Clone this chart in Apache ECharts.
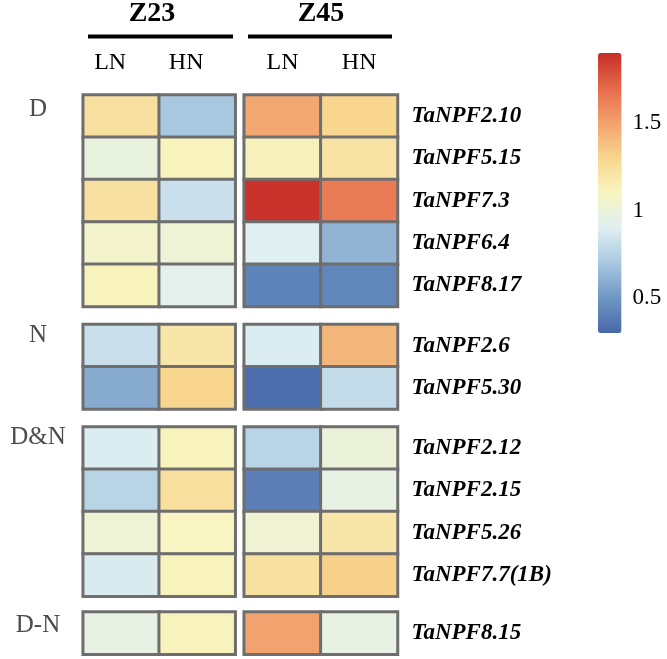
<!DOCTYPE html>
<html>
<head>
<meta charset="utf-8">
<script src="https://cdn.jsdelivr.net/npm/echarts@6/dist/echarts.min.js"></script>
<style>html,body{margin:0;padding:0;background:#fff;}#c{width:667px;height:659px;}</style>
</head>
<body>
<div id="c"></div>
<script>
// ---- data ----
const genotypes = ['Z23', 'Z45'];
const treatments = ['LN', 'HN'];
const rowGroups = ['D', 'N', 'D&N', 'D-N'];
const genesD = ['TaNPF2.10', 'TaNPF5.15', 'TaNPF7.3', 'TaNPF6.4', 'TaNPF8.17'];
const genesN = ['TaNPF2.6', 'TaNPF5.30'];
const genesDN = ['TaNPF2.12', 'TaNPF2.15', 'TaNPF5.26', 'TaNPF7.7(1B)'];
const genesDminusN = ['TaNPF8.15'];
// values per row group: [Z23 LN, Z23 HN, Z45 LN, Z45 HN]
const valuesD = [
  [1.23, 0.70, 1.48, 1.30],
  [0.98, 1.12, 1.13, 1.22],
  [1.23, 0.82, 1.88, 1.64],
  [1.06, 1.02, 0.90, 0.62],
  [1.12, 0.93, 0.42, 0.43]
];
const valuesN = [
  [0.82, 1.20, 0.89, 1.42],
  [0.58, 1.30, 0.33, 0.80]
];
const valuesDN = [
  [0.89, 1.12, 0.76, 1.00],
  [0.76, 1.24, 0.40, 0.96],
  [1.02, 1.10, 1.03, 1.20],
  [0.88, 1.12, 1.23, 1.32]
];
const valuesDminusN = [
  [0.96, 1.12, 1.50, 0.96]
];
const colorbarTicks = [0.5, 1, 1.5];
const scaleMin = 0.3, scaleMax = 1.9;

// ---- layout ----
const genesByGroup = [genesD, genesN, genesDN, genesDminusN];
const valuesByGroup = [valuesD, valuesN, valuesDN, valuesDminusN];
const rowH = 42.3;
const groupTops = [95, 324.5, 427, 612];
const colLefts = [83.2, 244.2];
const colWidths = [152, 153.3];
const serif = '"Liberation Serif","Times New Roman",serif';
const borderCol = '#6e6e6e';

const grid = [], xAxis = [], yAxis = [], series = [];
let idx = 0;
for (let g = 0; g < rowGroups.length; g++) {
  const genes = genesByGroup[g];
  const vals = valuesByGroup[g];
  for (let c = 0; c < genotypes.length; c++) {
    grid.push({left: colLefts[c], width: colWidths[c], top: groupTops[g], height: rowH * genes.length, show: false});
    xAxis.push({
      type: 'category', gridIndex: idx, data: treatments, position: 'top',
      axisLine: {show: false}, axisTick: {show: false}, splitLine: {show: false},
      axisLabel: {
        show: g === 0, margin: 20, color: '#000', fontFamily: serif, fontSize: 24,
        padding: c === 0 ? [0, 22, 0, 0] : 0
      }
    });
    yAxis.push({
      type: 'category', gridIndex: idx, data: genes, inverse: true, position: 'right',
      axisLine: {show: false}, axisTick: {show: false}, splitLine: {show: false},
      axisLabel: {
        show: c === 1, margin: 14, color: '#000', fontFamily: serif, fontSize: 23,
        fontStyle: 'italic', fontWeight: 'bold'
      }
    });
    const data = [];
    for (let r = 0; r < genes.length; r++) {
      for (let t = 0; t < treatments.length; t++) {
        data.push([t, r, vals[r][c * 2 + t]]);
      }
    }
    series.push({
      type: 'heatmap', xAxisIndex: idx, yAxisIndex: idx, data: data,
      itemStyle: {borderColor: borderCol, borderWidth: 3},
      emphasis: {disabled: true}, silent: true
    });
    idx++;
  }
}
// colorbar axis grid
grid.push({left: 598, width: 23.5, top: 53, height: 280, show: false});
xAxis.push({type: 'value', gridIndex: idx, show: false});
yAxis.push({
  type: 'value', gridIndex: idx, min: scaleMin, max: scaleMax, position: 'right',
  axisLine: {show: false}, axisTick: {show: false}, splitLine: {show: false},
  axisLabel: {customValues: colorbarTicks, margin: 11, color: '#000', fontFamily: serif, fontSize: 23}
});

const groupLabelY = [109, 335, 437, 625];
const graphic = [];
for (let g = 0; g < rowGroups.length; g++) {
  graphic.push({
    type: 'text', x: 38, y: groupLabelY[g],
    style: {text: rowGroups[g], fill: '#4d4d4d', font: '25px ' + serif, textAlign: 'center', textVerticalAlign: 'middle'}
  });
}
const headerX = [152, 321];
const lineSpans = [[88, 233], [248, 392]];
for (let c = 0; c < genotypes.length; c++) {
  graphic.push({
    type: 'text', x: headerX[c], y: 14,
    style: {text: genotypes[c], fill: '#000', font: 'bold 28px ' + serif, textAlign: 'center', textVerticalAlign: 'middle'}
  });
  graphic.push({
    type: 'line', shape: {x1: lineSpans[c][0], y1: 36.5, x2: lineSpans[c][1], y2: 36.5},
    style: {stroke: '#000', lineWidth: 4}
  });
}

const chart = echarts.init(document.getElementById('c'), null, {renderer: 'canvas'});
chart.setOption({
  animation: false,
  backgroundColor: '#fff',
  grid, xAxis, yAxis, series, graphic,
  visualMap: {
    type: 'continuous', min: scaleMin, max: scaleMax, calculable: false,
    seriesIndex: series.map((s, i) => i),
    left: 583, top: 38, itemWidth: 23.5, itemHeight: 280, orient: 'vertical',
    text: null, showLabel: false,
    inRange: {color: ['#4767a8', '#6f97c4', '#a8c8e0', '#dfeff2', '#f8f5c2', '#f8d68e', '#f2a26e', '#e56a4a', '#c62d27']}
  }
});
</script>
</body>
</html>
